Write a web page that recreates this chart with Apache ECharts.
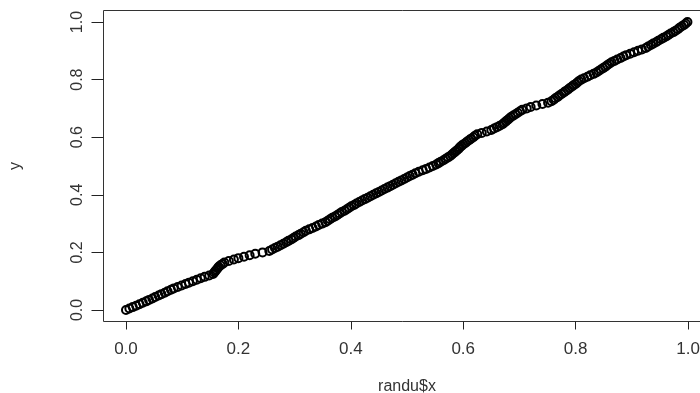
<!DOCTYPE html>
<html>
<head>
<meta charset="utf-8">
<script src="https://cdn.jsdelivr.net/npm/echarts@6/dist/echarts.min.js"></script>
<style>html,body{margin:0;padding:0;background:#fff}#c{width:700px;height:393px}</style>
</head>
<body>
<div id="c"></div>
<script>
// Tick labels
var xTicks = [0, 0.2, 0.4, 0.6, 0.8, 1.0];
var yTicks = [0, 0.2, 0.4, 0.6, 0.8, 1.0];

// randu$x values
var xs = [
0.000,0.006,0.012,0.018,0.024,0.030,0.036,0.041,0.047,0.052,
0.058,0.063,0.069,0.074,0.080,0.085,0.092,0.099,0.106,0.112,
0.119,0.126,0.133,0.140,0.148,0.155,0.157,0.159,0.161,0.163,
0.165,0.168,0.172,0.175,0.183,0.192,0.200,0.210,0.220,0.230,
0.243,0.255,0.260,0.265,0.270,0.275,0.280,0.285,0.289,0.294,
0.298,0.302,0.307,0.311,0.316,0.320,0.326,0.332,0.338,0.343,
0.349,0.355,0.359,0.363,0.367,0.372,0.376,0.380,0.384,0.389,
0.393,0.397,0.401,0.406,0.410,0.415,0.420,0.425,0.430,0.435,
0.440,0.445,0.450,0.455,0.460,0.465,0.470,0.475,0.480,0.485,
0.490,0.495,0.500,0.505,0.510,0.515,0.521,0.528,0.534,0.540,
0.546,0.552,0.556,0.560,0.565,0.569,0.573,0.577,0.580,0.583,
0.586,0.589,0.592,0.594,0.597,0.600,0.604,0.607,0.611,0.614,
0.618,0.621,0.625,0.633,0.642,0.650,0.655,0.660,0.665,0.670,
0.673,0.676,0.679,0.682,0.685,0.689,0.693,0.697,0.701,0.705,
0.713,0.720,0.730,0.741,0.751,0.757,0.761,0.764,0.768,0.771,
0.775,0.779,0.782,0.786,0.789,0.793,0.796,0.800,0.803,0.806,
0.810,0.815,0.821,0.826,0.832,0.837,0.841,0.845,0.849,0.853,
0.856,0.860,0.864,0.869,0.874,0.880,0.885,0.890,0.897,0.904,
0.911,0.918,0.925,0.929,0.934,0.938,0.943,0.947,0.952,0.956,
0.961,0.965,0.969,0.974,0.978,0.982,0.985,0.989,0.993,0.996,
0.999
];
// y values
var ys = [
0.000,0.005,0.010,0.015,0.020,0.025,0.030,0.035,0.040,0.045,
0.050,0.055,0.060,0.065,0.070,0.075,0.080,0.085,0.090,0.095,
0.100,0.105,0.110,0.115,0.120,0.125,0.130,0.135,0.140,0.145,
0.150,0.155,0.160,0.165,0.170,0.175,0.180,0.185,0.190,0.195,
0.200,0.205,0.210,0.215,0.220,0.225,0.230,0.235,0.240,0.245,
0.250,0.255,0.260,0.265,0.270,0.275,0.280,0.285,0.290,0.295,
0.300,0.305,0.310,0.315,0.320,0.325,0.330,0.335,0.340,0.345,
0.350,0.355,0.360,0.365,0.370,0.375,0.380,0.385,0.390,0.395,
0.400,0.405,0.410,0.415,0.420,0.425,0.430,0.435,0.440,0.445,
0.450,0.455,0.460,0.465,0.470,0.475,0.480,0.485,0.490,0.495,
0.500,0.505,0.510,0.515,0.520,0.525,0.530,0.535,0.540,0.545,
0.550,0.555,0.560,0.565,0.570,0.575,0.580,0.585,0.590,0.595,
0.600,0.605,0.610,0.615,0.620,0.625,0.630,0.635,0.640,0.645,
0.650,0.655,0.660,0.665,0.670,0.675,0.680,0.685,0.690,0.695,
0.700,0.705,0.710,0.715,0.720,0.725,0.730,0.735,0.740,0.745,
0.750,0.755,0.760,0.765,0.770,0.775,0.780,0.785,0.790,0.795,
0.800,0.805,0.810,0.815,0.820,0.825,0.830,0.835,0.840,0.845,
0.850,0.855,0.860,0.865,0.870,0.875,0.880,0.885,0.890,0.895,
0.900,0.905,0.910,0.915,0.920,0.925,0.930,0.935,0.940,0.945,
0.950,0.955,0.960,0.965,0.970,0.975,0.980,0.985,0.990,0.995,
1.000
];

var pts = xs.map(function (x, i) { return [x, ys[i]]; });

var chart = echarts.init(document.getElementById('c'), null, {renderer: 'canvas'});
var font = 'Liberation Sans, Arial, sans-serif';
chart.setOption({
  animation: false,
  backgroundColor: '#fff',
  grid: {
    left: 103.5, right: -10.5, top: 10.5, bottom: 71.5,
    outerBoundsMode: 'none', containLabel: false,
    show: true, borderColor: '#333', borderWidth: 1, backgroundColor: 'transparent'
  },
  xAxis: {
    type: 'value', min: -0.04, max: 1.04,
    name: 'randu$x', nameLocation: 'middle', nameGap: 57,
    nameTextStyle: {fontFamily: font, fontSize: 16, color: '#333'},
    axisLine: {show: false, onZero: false},
    splitLine: {show: false},
    axisTick: {show: true, length: 8, customValues: xTicks, lineStyle: {color: '#222', width: 1}},
    axisLabel: {customValues: xTicks, margin: 19, fontFamily: font, fontSize: 17, color: '#333',
      formatter: function (v) { return v.toFixed(1); }}
  },
  yAxis: {
    type: 'value', min: -0.04, max: 1.04,
    name: 'y', nameLocation: 'middle', nameGap: 80, nameRotate: 90,
    nameTextStyle: {fontFamily: font, fontSize: 16, color: '#333'},
    axisLine: {show: false, onZero: false},
    splitLine: {show: false},
    axisTick: {show: true, length: 12, customValues: yTicks, lineStyle: {color: '#222', width: 1}},
    axisLabel: {customValues: yTicks, rotate: 90, margin: 18, fontFamily: font, fontSize: 16, color: '#333',
      formatter: function (v) { return v.toFixed(1); }}
  },
  series: [{
    type: 'scatter',
    data: pts,
    symbol: 'circle',
    symbolSize: 8,
    clip: false,
    itemStyle: {color: 'rgba(255,255,255,0)', borderColor: '#000', borderWidth: 2, opacity: 1}
  }]
});
</script>
</body>
</html>
